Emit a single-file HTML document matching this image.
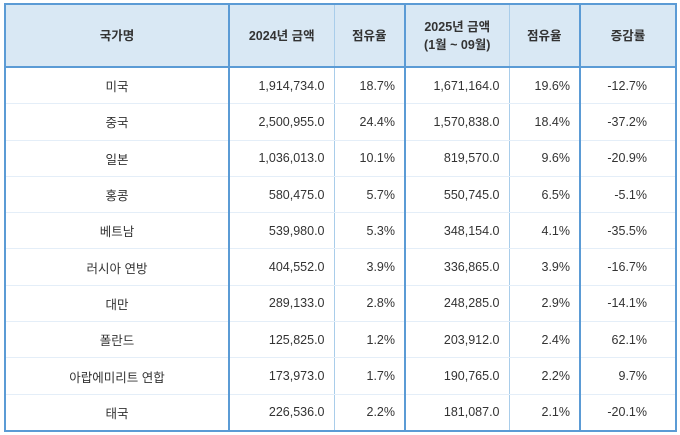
<!DOCTYPE html>
<html><head><meta charset="utf-8"><style>
body{margin:0;background:#fff;font-family:"Liberation Sans","Noto Sans CJK KR",sans-serif;}
table{position:absolute;left:4px;top:3px;border-collapse:collapse;border:2px solid #5b9bd5;font-size:12.5px;color:#333;table-layout:fixed;}
td,th{height:35.3px;padding:0 9px;border-bottom:1px solid #e4eef8;}
th{height:61px;background:#d9e8f4;font-weight:bold;color:#333;border-bottom:2px solid #5b9bd5;line-height:18px;}
.t{border-right:2px solid #5b9bd5}
.l{border-right:1px solid #a9cdea}
td{text-align:right}
td.c{text-align:center}
td.r{padding-right:28px}
</style></head><body>
<table>
<colgroup><col style="width:224px"><col style="width:105px"><col style="width:71px"><col style="width:104px"><col style="width:71px"><col style="width:96px"></colgroup>
<tr><th class="t">국가명</th><th class="l">2024년 금액</th><th class="t">점유율</th><th class="l">2025년 금액<br>(1월 ~ 09월)</th><th class="t">점유율</th><th>증감률</th></tr>
<tr><td class="c t">미국</td><td class="l">1,914,734.0</td><td class="t">18.7%</td><td class="l">1,671,164.0</td><td class="t">19.6%</td><td class="r">-12.7%</td></tr>
<tr><td class="c t">중국</td><td class="l">2,500,955.0</td><td class="t">24.4%</td><td class="l">1,570,838.0</td><td class="t">18.4%</td><td class="r">-37.2%</td></tr>
<tr><td class="c t">일본</td><td class="l">1,036,013.0</td><td class="t">10.1%</td><td class="l">819,570.0</td><td class="t">9.6%</td><td class="r">-20.9%</td></tr>
<tr><td class="c t">홍콩</td><td class="l">580,475.0</td><td class="t">5.7%</td><td class="l">550,745.0</td><td class="t">6.5%</td><td class="r">-5.1%</td></tr>
<tr><td class="c t">베트남</td><td class="l">539,980.0</td><td class="t">5.3%</td><td class="l">348,154.0</td><td class="t">4.1%</td><td class="r">-35.5%</td></tr>
<tr><td class="c t">러시아 연방</td><td class="l">404,552.0</td><td class="t">3.9%</td><td class="l">336,865.0</td><td class="t">3.9%</td><td class="r">-16.7%</td></tr>
<tr><td class="c t">대만</td><td class="l">289,133.0</td><td class="t">2.8%</td><td class="l">248,285.0</td><td class="t">2.9%</td><td class="r">-14.1%</td></tr>
<tr><td class="c t">폴란드</td><td class="l">125,825.0</td><td class="t">1.2%</td><td class="l">203,912.0</td><td class="t">2.4%</td><td class="r">62.1%</td></tr>
<tr><td class="c t">아랍에미리트 연합</td><td class="l">173,973.0</td><td class="t">1.7%</td><td class="l">190,765.0</td><td class="t">2.2%</td><td class="r">9.7%</td></tr>
<tr><td class="c t">태국</td><td class="l">226,536.0</td><td class="t">2.2%</td><td class="l">181,087.0</td><td class="t">2.1%</td><td class="r">-20.1%</td></tr>
</table>
</body></html>
